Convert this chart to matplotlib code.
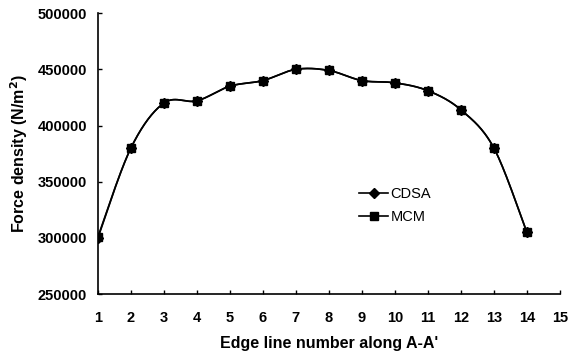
import numpy as np
import matplotlib
matplotlib.use("Agg")
import matplotlib.pyplot as plt
from matplotlib.lines import Line2D

plt.rcParams['font.family'] = ['Liberation Sans', 'DejaVu Sans']

edge_line = [1, 2, 3, 4, 5, 6, 7, 8, 9, 10, 11, 12, 13, 14]
cdsa = [300000, 380000, 420000, 422000, 435000, 440000, 450000, 449000, 440000, 438000, 431000, 414000, 380000, 305000]
mcm = [301000, 380000, 420000, 422000, 435000, 440000, 450000, 449000, 440000, 438000, 431000, 414000, 380000, 305000]
x_ticks = list(range(1, 16))
y_ticks = [250000, 300000, 350000, 400000, 450000, 500000]


def smooth(x, y, n=30):
    # Catmull-Rom (Bezier) smoothing like spreadsheet "smoothed line"
    x = np.asarray(x, float)
    y = np.asarray(y, float)
    px = np.concatenate([[x[0]], x, [x[-1]]])
    py = np.concatenate([[y[0]], y, [y[-1]]])
    xs, ys = [], []
    t = np.linspace(0, 1, n)
    for i in range(1, len(px) - 2):
        p0 = np.array([px[i], py[i]])
        p3 = np.array([px[i + 1], py[i + 1]])
        c1 = p0 + (np.array([px[i + 1], py[i + 1]]) - np.array([px[i - 1], py[i - 1]])) / 6
        c2 = p3 - (np.array([px[i + 2], py[i + 2]]) - np.array([px[i], py[i]])) / 6
        b = ((1 - t) ** 3)[:, None] * p0 + (3 * (1 - t) ** 2 * t)[:, None] * c1 + \
            (3 * (1 - t) * t ** 2)[:, None] * c2 + (t ** 3)[:, None] * p3
        xs.extend(b[:, 0])
        ys.extend(b[:, 1])
    return np.array(xs), np.array(ys)


fig = plt.figure(figsize=(5.76, 3.56), dpi=100)
ax = fig.add_axes([0.170, 0.174, 0.802, 0.789])

sx, sy = smooth(edge_line, cdsa)
ax.plot(sx, sy, color='black', lw=1.2)
ax.plot(edge_line, cdsa, ls='none', marker='D', ms=5, color='black')
sx, sy = smooth(edge_line, mcm)
ax.plot(sx, sy, color='black', lw=1.2)
ax.plot(edge_line, mcm, ls='none', marker='s', ms=6, color='black')

ax.set_xlim(1, 15)
ax.set_ylim(250000, 500000)
ax.set_xticks(x_ticks)
ax.set_yticks(y_ticks)
ax.set_xticklabels([str(v) for v in x_ticks], fontweight='bold', fontsize=10.5)
ax.set_yticklabels([str(v) for v in y_ticks], fontweight='bold', fontsize=10.5)
ax.tick_params(axis='both', direction='in', length=3, width=1)
ax.tick_params(axis='x', pad=12)
ax.tick_params(axis='y', pad=8)
for s in ['top', 'right']:
    ax.spines[s].set_visible(False)
for s in ['left', 'bottom']:
    ax.spines[s].set_linewidth(1.2)

ax.set_xlabel("Edge line number along A-A'", fontweight='bold', fontsize=11.5, labelpad=8)
ax.set_ylabel("Force density (N/m$^\\mathbf{2}$)", fontweight='bold', fontsize=11.5, labelpad=5)

handles = [Line2D([0], [0], color='black', lw=1.2, marker='D', ms=5),
           Line2D([0], [0], color='black', lw=1.2, marker='s', ms=6)]
ax.legend(handles, ['CDSA', 'MCM'], loc='upper left',
          bbox_to_anchor=(359 / 576, 1 - 187 / 356), bbox_transform=fig.transFigure,
          frameon=False, fontsize=10.5, borderpad=0, borderaxespad=0,
          handlelength=2.0, handletextpad=0.15, labelspacing=0.65)

fig.savefig('out.png', dpi=100)
